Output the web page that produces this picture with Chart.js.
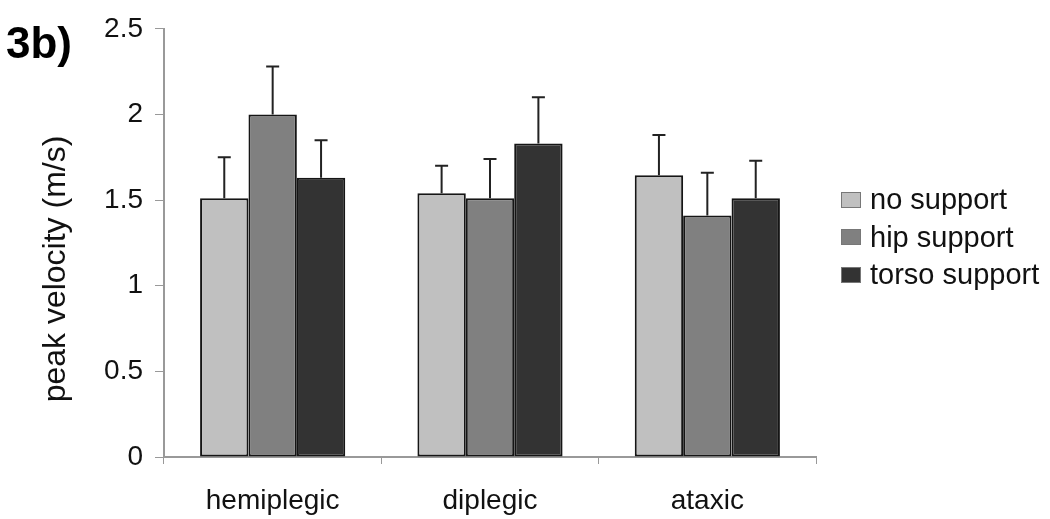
<!DOCTYPE html>
<html>
<head>
<meta charset="utf-8">
<script src="https://cdn.jsdelivr.net/npm/chart.js@4"></script>
<style>
  html, body { margin: 0; padding: 0; background: #fff; }
  #wrap { position: relative; width: 1050px; height: 519px; font-family: "Liberation Sans", Arial, sans-serif; }
  #tag { position: absolute; left: 6px; top: 18px; font-size: 44px; font-weight: bold; color: #000; }
  #legend { position: absolute; left: 841px; top: 181px; }
  .item { display: flex; align-items: center; height: 37.5px; font-size: 29px; color: #111; }
  .box { width: 20px; height: 16px; margin-right: 9px; border: 1px solid #777; box-sizing: border-box; }
</style>
</head>
<body>
<div id="wrap">
  <canvas id="c" width="1050" height="519"></canvas>
  <div id="tag">3b)</div>
  <div id="legend"></div>
</div>
<script>
const categories = ['hemiplegic', 'diplegic', 'ataxic'];
const seriesNames = ['no support', 'hip support', 'torso support'];
const noSupport = [1.51, 1.54, 1.645];
const hipSupport = [2.0, 1.51, 1.41];
const torsoSupport = [1.63, 1.83, 1.51];
const noSupportErr = [0.24, 0.16, 0.235];
const hipSupportErr = [0.28, 0.23, 0.25];
const torsoSupportErr = [0.22, 0.27, 0.22];
const colors = ['#c0c0c0', '#808080', '#333333'];

const values = [noSupport, hipSupport, torsoSupport];
const errors = [noSupportErr, hipSupportErr, torsoSupportErr];
const FONT = '"Liberation Sans", Arial, sans-serif';

// error bars (upper only), drawn from the value scale
const errorBars = {
  id: 'errorBars',
  afterDatasetsDraw(chart) {
    const ctx = chart.ctx;
    const y = chart.scales.y;
    ctx.save();
    ctx.strokeStyle = '#222';
    ctx.lineWidth = 2;
    chart.data.datasets.forEach((ds, i) => {
      const meta = chart.getDatasetMeta(i);
      meta.data.forEach((bar, j) => {
        const top = y.getPixelForValue(ds.data[j] + ds.errors[j]);
        ctx.beginPath();
        ctx.moveTo(bar.x, bar.y);
        ctx.lineTo(bar.x, top);
        ctx.moveTo(bar.x - 6.5, top);
        ctx.lineTo(bar.x + 6.5, top);
        ctx.stroke();
      });
    });
    ctx.restore();
  }
};

// y axis title placed like the original (a bit below axis centre)
const yTitle = {
  id: 'yTitle',
  afterDraw(chart) {
    const ctx = chart.ctx;
    ctx.save();
    ctx.translate(56, 269);
    ctx.rotate(-Math.PI / 2);
    ctx.font = '32px ' + FONT;
    ctx.fillStyle = '#111';
    ctx.textAlign = 'center';
    ctx.textBaseline = 'middle';
    ctx.fillText('peak velocity (m/s)', 0, 0);
    ctx.restore();
  }
};

const datasets = seriesNames.map((name, i) => ({
  label: name,
  data: values[i],
  errors: errors[i],
  backgroundColor: colors[i],
  borderColor: '#151515',
  borderWidth: 2,
  borderSkipped: false,
  barPercentage: 1.0,
  categoryPercentage: 0.668
}));

new Chart(document.getElementById('c'), {
  type: 'bar',
  data: { labels: categories, datasets: datasets },
  options: {
    responsive: false,
    animation: false,
    layout: { padding: { top: 26, right: 234, left: 0, bottom: 0 } },
    plugins: {
      legend: { display: false },
      tooltip: { enabled: false }
    },
    scales: {
      x: {
        grid: { drawOnChartArea: false, color: '#999', tickLength: 7, offset: true },
        border: { color: '#999', width: 2 },
        ticks: { color: '#111', font: { size: 28, family: FONT }, padding: 20 },
        afterFit(scale) { scale.height = 62; }
      },
      y: {
        min: 0,
        max: 2.5,
        ticks: {
          stepSize: 0.5, color: '#111', font: { size: 28, family: FONT }, padding: 12,
          callback: v => String(+v.toFixed(1))
        },
        grid: { drawOnChartArea: false, color: '#999', tickLength: 9 },
        border: { color: '#999', width: 2 },
        afterFit(scale) { scale.width = 164; }
      }
    }
  },
  plugins: [errorBars, yTitle]
});

const legend = document.getElementById('legend');
seriesNames.forEach((name, i) => {
  const row = document.createElement('div');
  row.className = 'item';
  row.innerHTML = '<span class="box" style="background:' + colors[i] + '"></span><span>' + name + '</span>';
  legend.appendChild(row);
});
</script>
</body>
</html>
